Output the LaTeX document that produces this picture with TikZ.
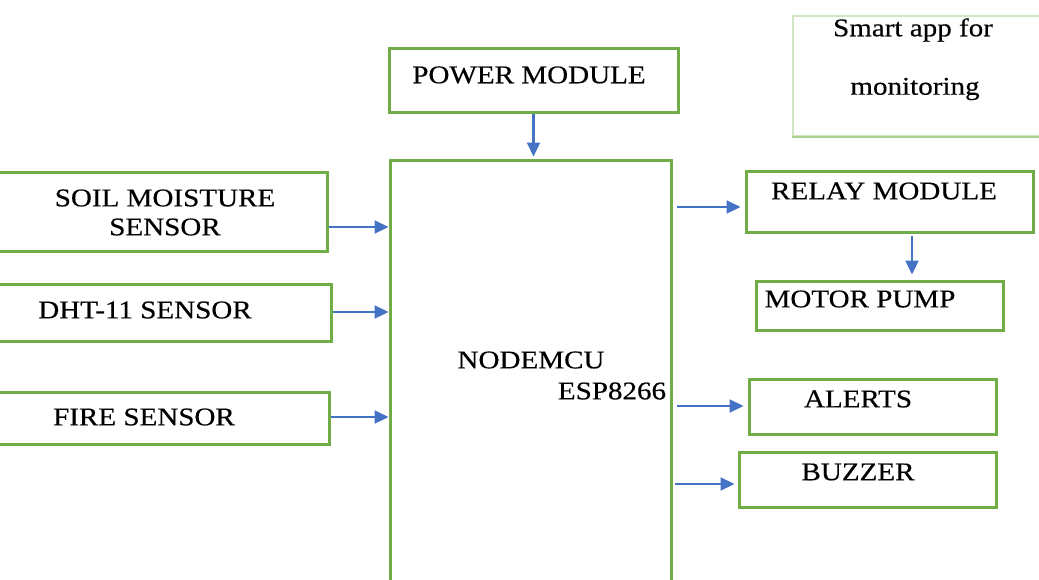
\documentclass[tikz,border=0pt]{standalone}
\usepackage{fontspec}
\setmainfont{Liberation Serif}[FakeStretch=1.14,FakeBold=0.4]
\usetikzlibrary{arrows.meta}
\definecolor{boxgreen}{RGB}{112,173,71}
\definecolor{appgreen}{RGB}{208,230,194}
\definecolor{appline}{RGB}{170,210,145}
\definecolor{arrowblue}{RGB}{68,114,196}
\tikzset{
  blk/.style={draw=boxgreen, line width=3pt, inner sep=0pt},
  lbl/.style={font=\fontsize{25.5}{30}\selectfont, inner sep=0pt},
  arr/.style={draw=arrowblue, line width=2.2pt, -{Triangle[length=14pt,width=13pt]}}
}
\begin{document}
\begin{tikzpicture}[x=1pt,y=-1pt]
\useasboundingbox (0,0) rectangle (1039,579);
\clip (0,0) rectangle (1039,579);

% blocks
\node[blk, minimum width=289pt, minimum height=64pt] (power) at (533.5,80) {};
\node[blk, minimum width=281pt, minimum height=480pt] (mcu) at (530.5,400) {};
\node[blk, minimum width=347pt, minimum height=79pt] (soil) at (153.5,211.5) {};
\node[blk, minimum width=351pt, minimum height=57pt] (dht) at (155.5,312.5) {};
\node[blk, minimum width=349pt, minimum height=52pt] (fire) at (154.5,418) {};
\node[blk, minimum width=287pt, minimum height=61pt] (relay) at (889.5,201.5) {};
\node[blk, minimum width=247pt, minimum height=49pt] (pump) at (879.5,305.5) {};
\node[blk, minimum width=247pt, minimum height=55pt] (alerts) at (872.5,406.5) {};
\node[blk, minimum width=257pt, minimum height=55pt] (buzzer) at (867.5,479.5) {};
\node[draw=appgreen, line width=2pt, minimum width=267pt, minimum height=120pt] (app) at (926.5,76) {};
\draw[appline, line width=2.5pt] (app.south west) -- (app.south east);

% texts
\node[lbl] (powerTxt) at (529,75) {POWER MODULE};
\node[lbl] (soilTxt) at (165,198) {SOIL MOISTURE};
\node[lbl] (soilTxtB) at (165,227) {SENSOR};
\node[lbl] (dhtTxt) at (145,310) {DHT-11 SENSOR};
\node[lbl] (fireTxt) at (144,417) {FIRE SENSOR};
\node[lbl] (mcuTxt) at (531,360) {NODEMCU};
\node[lbl] (mcuTxtB) at (612,391) {ESP8266};
\node[lbl] (relayTxt) at (884,191) {RELAY MODULE};
\node[lbl] (pumpTxt) at (860,299) {MOTOR PUMP};
\node[lbl] (alertsTxt) at (858,399) {ALERTS};
\node[lbl] (buzzerTxt) at (858,472) {BUZZER};
\node[lbl] (appTxt) at (913,30) {Smart app for};
\node[lbl] (appTxtB) at (915,89) {monitoring};

% connectors
\draw[arr, shorten >=2pt] (power.south) -- (power.south |- mcu.north);
\draw[arr] (soil.east |- 0,227) -- (mcu.west |- 0,227);
\draw[arr] (dht.east |- 0,312) -- (mcu.west |- 0,312);
\draw[arr] (fire.east |- 0,417) -- (mcu.west |- 0,417);
\draw[arr, shorten <=4pt, shorten >=4pt] (mcu.east |- 0,207) -- (relay.west |- 0,207);
\draw[arr, shorten <=2pt, shorten >=5pt] (relay.south -| 912,0) -- (pump.north -| 912,0);
\draw[arr, shorten <=4pt, shorten >=4pt] (mcu.east |- 0,406) -- (alerts.west |- 0,406);
\draw[arr, shorten <=2pt, shorten >=3pt] (mcu.east |- 0,484) -- (buzzer.west |- 0,484);
\end{tikzpicture}
\end{document}
